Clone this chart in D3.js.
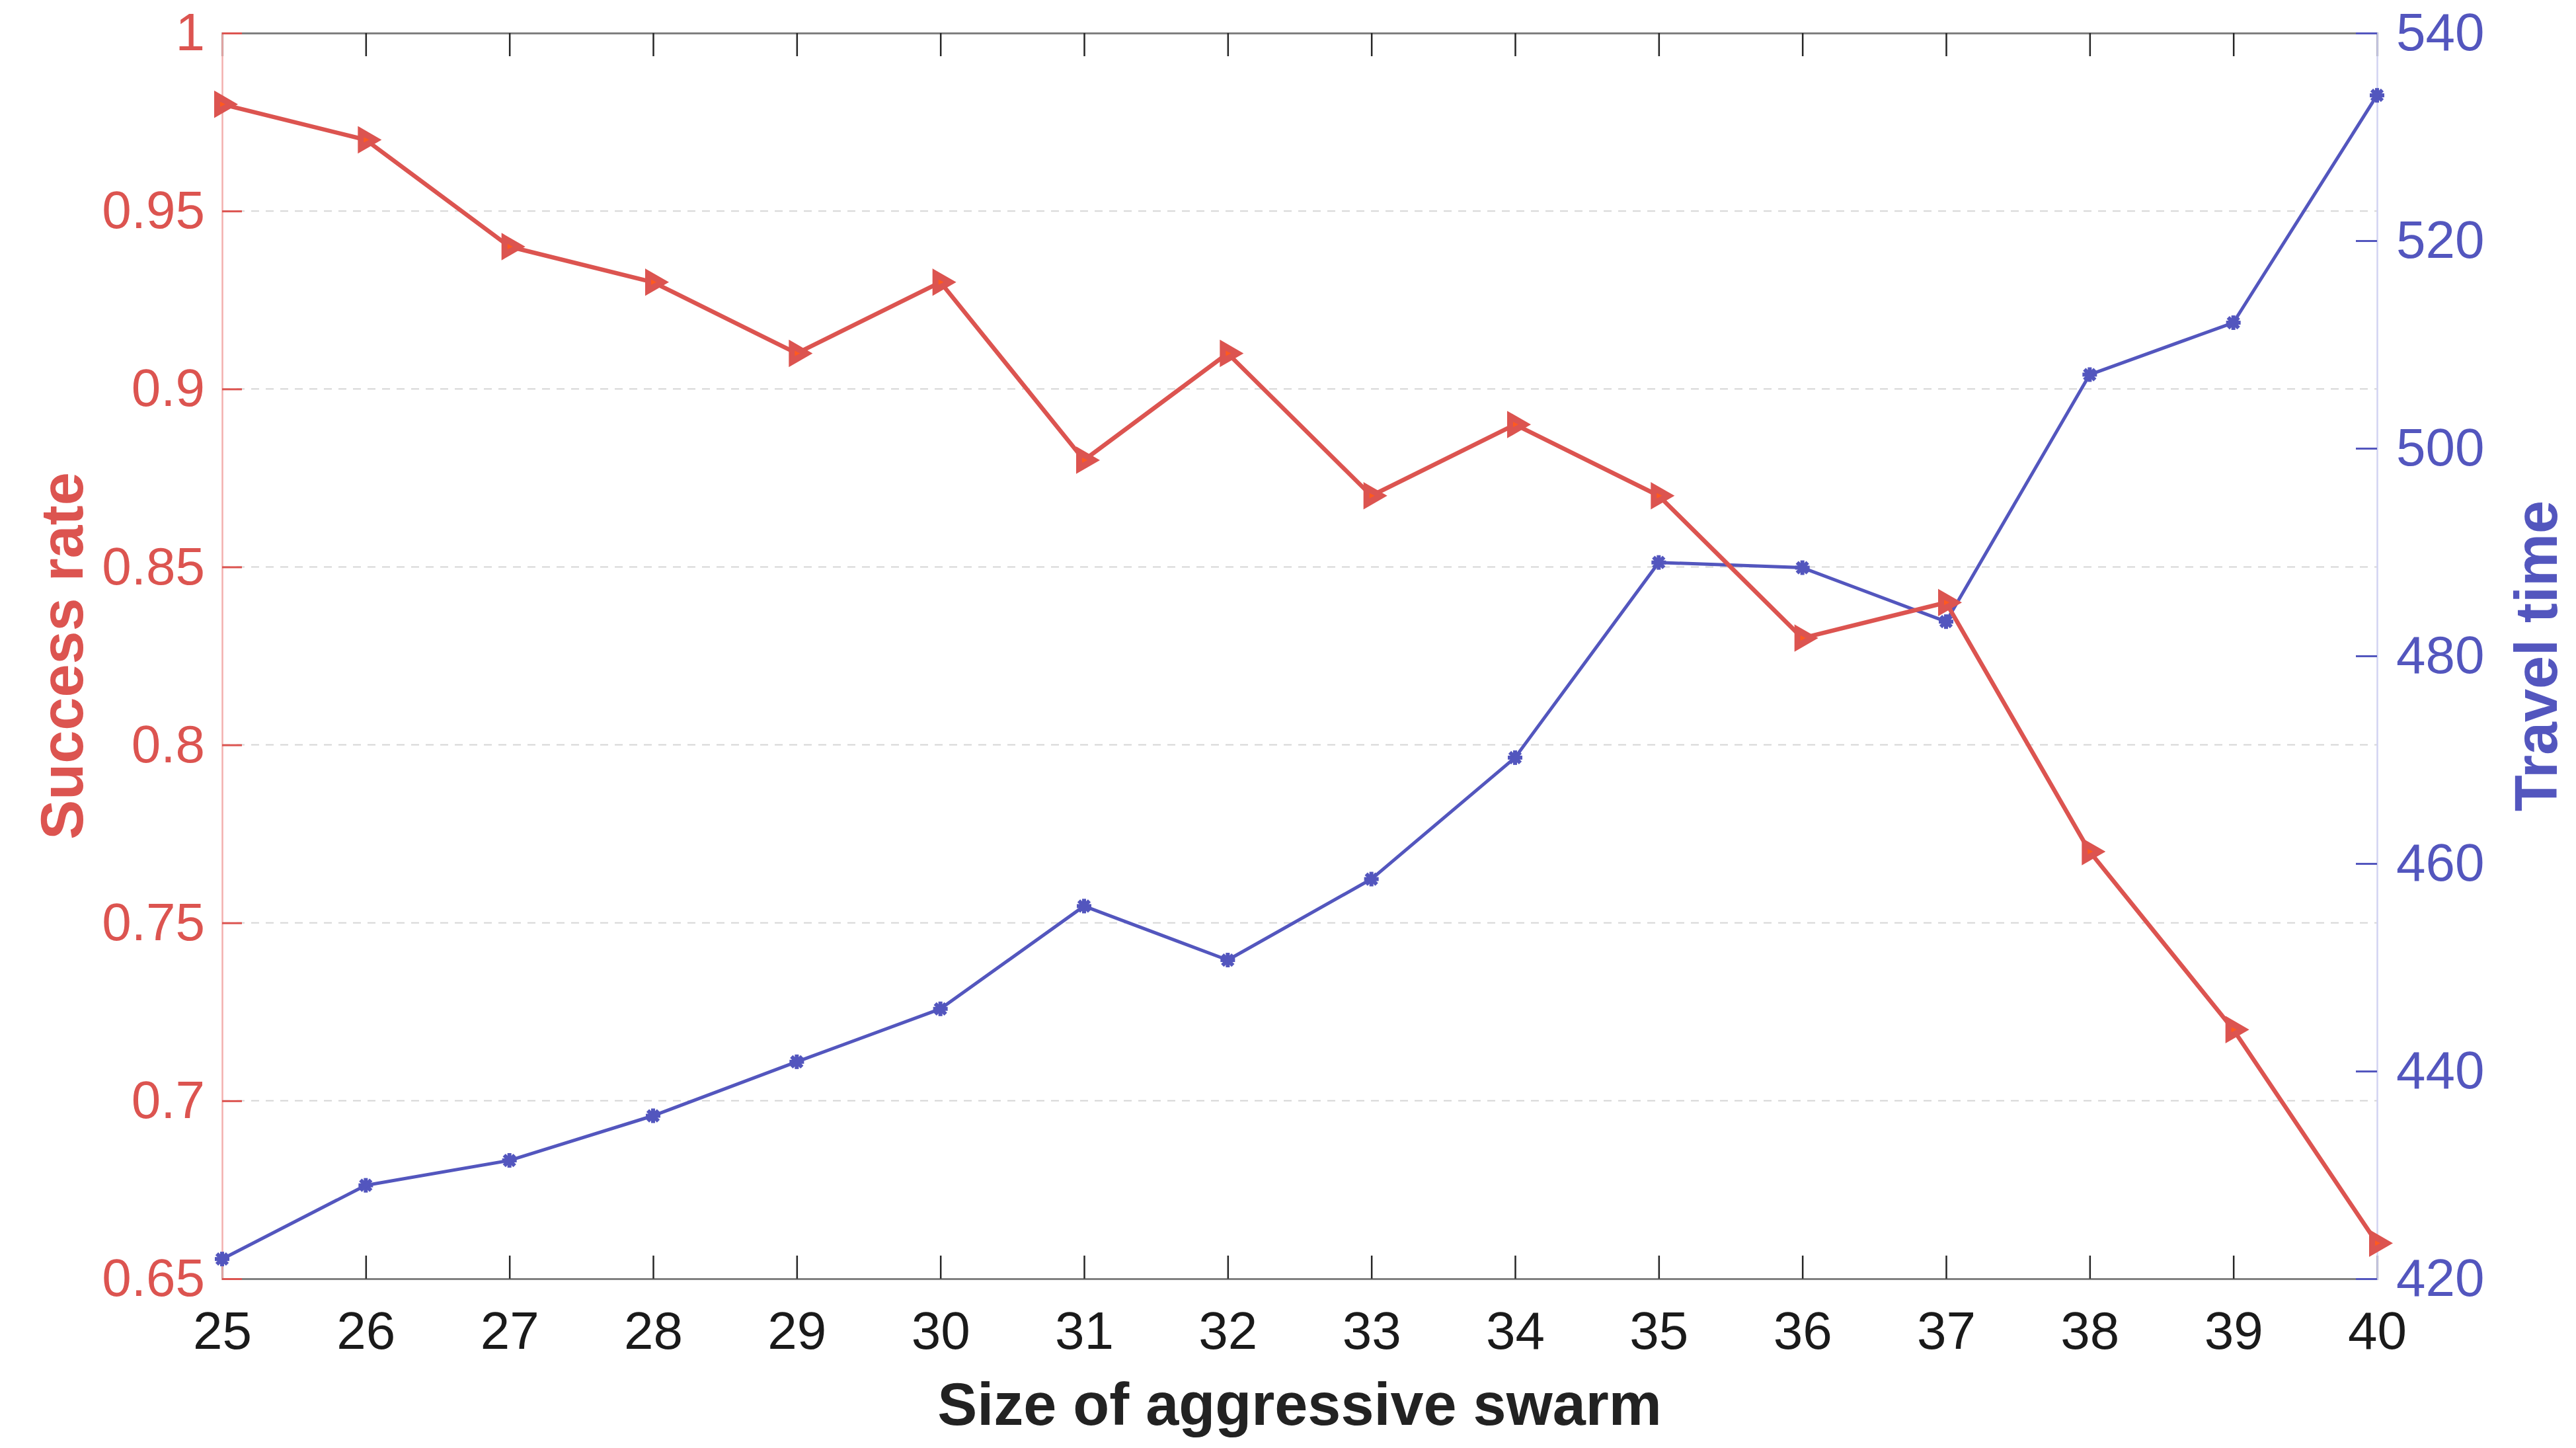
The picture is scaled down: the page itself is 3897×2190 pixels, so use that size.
<!DOCTYPE html>
<html><head><meta charset="utf-8">
<script src="https://cdn.jsdelivr.net/npm/d3@7"></script>
<style>html,body{margin:0;padding:0;background:#fff;}svg{display:block;}</style>
</head><body>
<svg id="chart" width="3897" height="2190"></svg>
<script>
const sizes = [25,26,27,28,29,30,31,32,33,34,35,36,37,38,39,40];
const successRate = [0.98,0.97,0.94,0.93,0.91,0.93,0.88,0.91,0.87,0.89,0.87,0.83,0.84,0.77,0.72,0.66];
const travelTime = [421.9,429.0,431.4,435.7,440.9,446.0,455.9,450.7,458.5,470.2,489.0,488.5,483.3,507.1,512.1,534.0];
const leftTicks = [0.65,0.7,0.75,0.8,0.85,0.9,0.95,1];
const leftTickLabels = ["0.65","0.7","0.75","0.8","0.85","0.9","0.95","1"];
const rightTicks = [420,440,460,480,500,520,540];
const xLabel = "Size of aggressive swarm";
const leftLabel = "Success rate";
const rightLabel = "Travel time";

const RED = "#DC5450", BLUE = "#5356BE";
const M = {left:336, right:3596, top:50, bottom:1934};
const svg = d3.select("#chart");
const font = "'Liberation Sans', Arial, sans-serif";

const x = d3.scaleLinear().domain([25,40]).range([M.left, M.right]);
const yL = d3.scaleLinear().domain([0.65,1]).range([M.bottom, M.top]);
const yR = d3.scaleLinear().domain([420,540]).range([M.bottom, M.top]);

// grid
svg.append("g").selectAll("line").data(leftTicks.filter(d=>d>0.65 && d<1)).join("line")
  .attr("x1", M.left).attr("x2", M.right).attr("y1", d=>yL(d)).attr("y2", d=>yL(d))
  .attr("stroke", "#d6d6d6").attr("stroke-width", 2).attr("stroke-dasharray", "12,10");

// bottom axis
const xAxisB = d3.axisBottom(x).tickValues(sizes).tickSize(-35).tickPadding(49).tickFormat(d3.format("d"));
const gB = svg.append("g").attr("transform", `translate(0,${M.bottom})`).call(xAxisB);
gB.select(".domain").attr("stroke", "#808080").attr("stroke-width", 3);
gB.selectAll(".tick line").attr("stroke", "#262626").attr("stroke-width", 2.5);
gB.selectAll(".tick text").attr("font-family", font).attr("font-size", 80).attr("fill", "#1a1a1a").attr("dy", "0.71em");

// top axis
const xAxisT = d3.axisTop(x).tickValues(sizes).tickSize(-35).tickFormat("");
const gT = svg.append("g").attr("transform", `translate(0,${M.top})`).call(xAxisT);
gT.select(".domain").attr("stroke", "#808080").attr("stroke-width", 3);
gT.selectAll(".tick line").attr("stroke", "#262626").attr("stroke-width", 2.5);

// left axis
const yAxisL = d3.axisLeft(yL).tickValues(leftTicks).tickSize(-30).tickPadding(26)
  .tickFormat((d,i)=>leftTickLabels[i]);
const gL = svg.append("g").attr("transform", `translate(${M.left},0)`).call(yAxisL);
gL.select(".domain").attr("stroke", "#F3B0AE").attr("stroke-width", 2.5);
gL.selectAll(".tick line").attr("stroke", RED).attr("stroke-width", 3);
gL.selectAll(".tick text").attr("font-family", font).attr("font-size", 80).attr("fill", RED);

// right axis
const yAxisR = d3.axisRight(yR).tickValues(rightTicks).tickSize(-32).tickPadding(29);
const gR = svg.append("g").attr("transform", `translate(${M.right},0)`).call(yAxisR);
gR.select(".domain").attr("stroke", "#D2D3F2").attr("stroke-width", 2.5);
gR.selectAll(".tick line").attr("stroke", BLUE).attr("stroke-width", 3);
gR.selectAll(".tick text").attr("font-family", font).attr("font-size", 80).attr("fill", BLUE);

// lines
const lineL = d3.line().x((d,i)=>x(sizes[i])).y(d=>yL(d));
const lineR = d3.line().x((d,i)=>x(sizes[i])).y(d=>yR(d));

svg.append("path").datum(travelTime).attr("d", lineR).attr("fill","none")
  .attr("stroke", BLUE).attr("stroke-width", 5).attr("stroke-linejoin","round");
svg.append("path").datum(successRate).attr("d", lineL).attr("fill","none")
  .attr("stroke", RED).attr("stroke-width", 6.5).attr("stroke-linejoin","round");

// blue asterisk markers
const star = svg.append("g").selectAll("g").data(travelTime).join("g")
  .attr("transform", (d,i)=>`translate(${x(sizes[i])},${yR(d)})`);
[[-11,0,11,0],[0,-11,0,11],[-8,-8,8,8],[-8,8,8,-8]].forEach(s=>{
  star.append("line").attr("x1",s[0]).attr("y1",s[1]).attr("x2",s[2]).attr("y2",s[3])
    .attr("stroke", BLUE).attr("stroke-width", 6);
});

// red triangle markers
const tri = svg.append("g").selectAll("g").data(successRate).join("g")
  .attr("transform", (d,i)=>`translate(${x(sizes[i])},${yL(d)})`);
tri.append("path").attr("d", "M-11,-19 L22,0 L-11,19 Z").attr("fill", RED).attr("stroke", RED).attr("stroke-width", 2);
tri.append("path").attr("d", "M-3,-4 L5,0 L-3,4 Z").attr("fill", "#FF5A1E");

// axis labels
svg.append("text").attr("x", (M.left+M.right)/2).attr("y", 2155).attr("text-anchor","middle")
  .attr("font-family", font).attr("font-weight","bold").attr("font-size", 90).attr("fill","#222").text(xLabel);
svg.append("text").attr("transform", `translate(125,${(M.top+M.bottom)/2}) rotate(-90)`).attr("text-anchor","middle")
  .attr("font-family", font).attr("font-weight","bold").attr("font-size", 90).attr("fill", RED).text(leftLabel);
svg.append("text").attr("transform", `translate(3868,${(M.top+M.bottom)/2}) rotate(-90)`).attr("text-anchor","middle")
  .attr("font-family", font).attr("font-weight","bold").attr("font-size", 90).attr("fill", BLUE).text(rightLabel);
</script>
</body></html>
